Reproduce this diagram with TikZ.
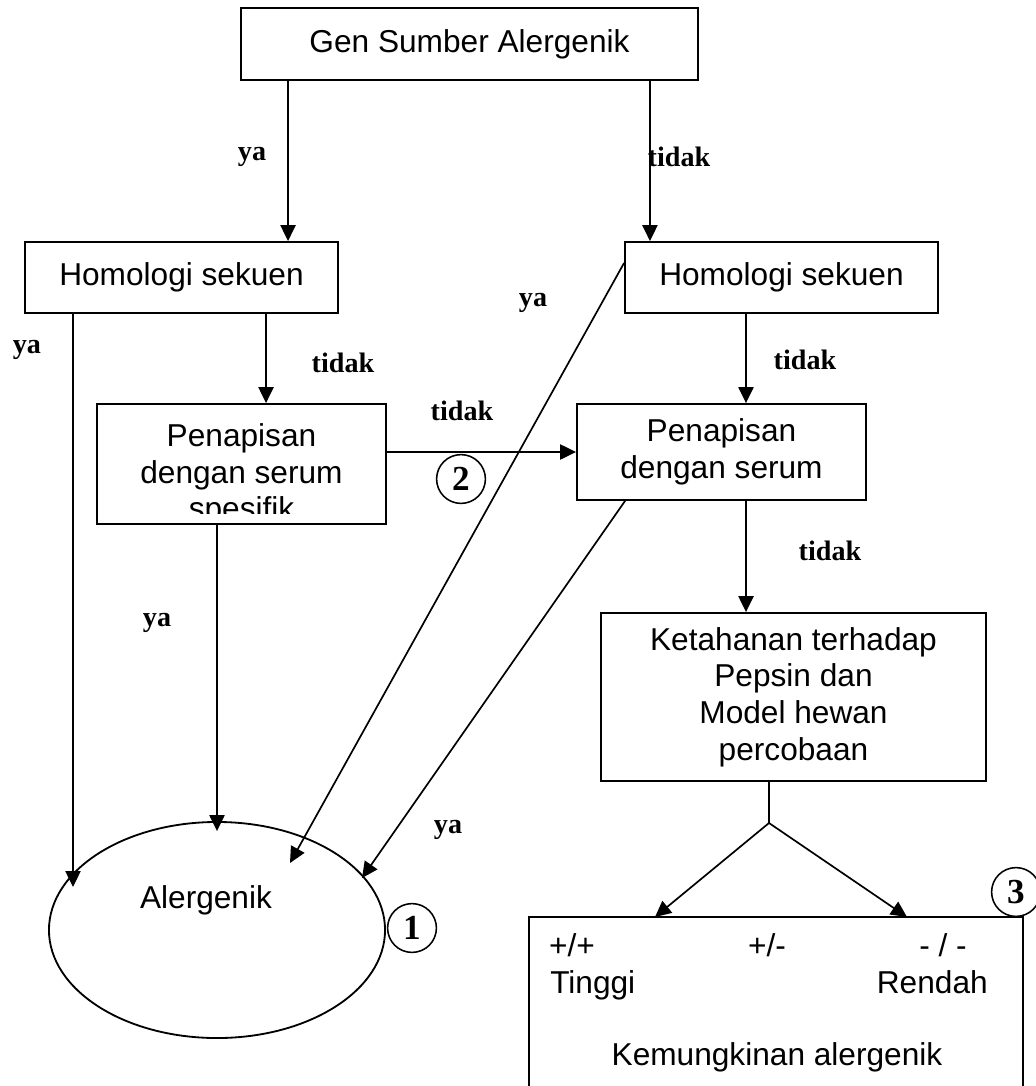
\documentclass[tikz,border=0pt]{standalone}
\usepackage{fontspec}
\setmainfont{Liberation Sans}
\newfontfamily\labelfont{Liberation Serif}
\usetikzlibrary{shapes.geometric,arrows.meta}

\tikzset{
	box/.style={draw, line width=1.3pt, inner sep=0pt, align=center, font=\fontsize{22.5}{26}\selectfont},
	txt/.style={inner sep=0pt, align=center, font=\fontsize{22.5}{26}\selectfont},
	lbl/.style={inner sep=0pt, font=\labelfont\bfseries\fontsize{20}{24}\selectfont},
	num/.style={draw, circle, line width=1.1pt, minimum size=1.22cm, inner sep=0pt, font=\labelfont\bfseries\fontsize{25}{26}\selectfont},
	arr/.style={line width=1.2pt, -{Triangle[length=0.4cm,width=0.38cm]}}
}

\begin{document}
\begin{tikzpicture}[x=0.025cm, y=-0.025cm]
	\useasboundingbox (0,0) rectangle (1035,1086);

	% boxes
	\node[box, minimum width=11.425cm, minimum height=1.8cm] (gen) at (469.5,44) {Gen Sumber Alergenik};
	\node[box, minimum width=7.825cm, minimum height=1.775cm] (hl) at (181.5,277.5) {Homologi sekuen};
	\node[box, minimum width=7.825cm, minimum height=1.775cm] (hr) at (781.5,277.5) {Homologi sekuen};
	\node[box, minimum width=7.225cm, minimum height=3cm] (pl) at (241.5,464) {};
	\begin{scope}
		\clip ([yshift=0.275cm]pl.south west) rectangle (pl.north east);
		\node[txt] (plt) at (241.5,475) {Penapisan\\dengan serum\\spesifik};
	\end{scope}
	\node[box, minimum width=7.225cm, minimum height=2.4cm] (pr) at (721.5,452) {Penapisan\\dengan serum};
	\node[box, minimum width=9.625cm, minimum height=4.2cm] (kt) at (793.5,697) {Ketahanan terhadap\\Pepsin dan\\Model hewan\\percobaan};
	\node[box, minimum width=12.35cm, minimum height=5.075cm] (res) at (776,1018.5) {};
	\node[draw, ellipse, line width=1.3pt, minimum width=8.4cm, minimum height=5.4cm] (alerg) at (217,930) {};
	\node[txt] (alt) at (206,900) {Alergenik};

	% text in the result box
	\node[txt, anchor=base] (pp) at (572,956) {+/+};
	\node[txt, anchor=base] (pm) at (767,956) {+/-};
	\node[txt, anchor=base] (mm) at (943,956) {- / -};
	\node[txt, anchor=base west] (hi) at (550,993) {Tinggi};
	\node[txt, anchor=base east] (lo) at (988,993) {Rendah};
	\node[txt] (kem) at (777,1057) {Kemungkinan alergenik};

	% arrow ends
	\coordinate (e1) at (73,887);
	\coordinate (e3) at (290,863);
	\coordinate (e4) at (362,878);
	\coordinate (fork) at (769,823);
	\coordinate (t1) at (655,917);
	\coordinate (t2) at (907,917);

	% connectors
	\draw[arr] ([xshift=1.2cm]gen.south west) coordinate (g1) -- (g1 |- hl.north);
	\draw[arr] ([xshift=-1.225cm]gen.south east) coordinate (g2) -- (g2 |- hr.north);
	\draw[arr] (e1 |- hl.south) -- (e1);
	\draw[arr] ([xshift=2.1125cm]hl.south) coordinate (h1) -- (h1 |- pl.north);
	\draw[arr] ([xshift=-0.8875cm]hr.south) coordinate (h2) -- (h2 |- pr.north);
	\draw[arr] ([xshift=0.6125cm]pr.south) coordinate (p2) -- (p2 |- kt.north);
	\draw[arr] (pl.east |- pr.west) -- (pr.west);
	\draw[arr] ([xshift=-0.6125cm]pl.south) -- ([yshift=-0.25cm]alerg.north);
	\draw[arr] ([yshift=0.3625cm]hr.west) -- (e3);
	\draw[arr] ([xshift=1.225cm]pr.south west) -- (e4);
	\draw[line width=1.2pt] ([xshift=-0.6125cm]kt.south) -- (fork);
	\draw[arr] (fork) -- (t1);
	\draw[arr] (fork) -- (t2);

	% labels
	\foreach \x/\y/\t [count=\i] in {252/157/ya, 679/157/tidak, 27/350/ya, 343/363/tidak, 533/303/ya,
		805/360/tidak, 462/411/tidak, 830/551/tidak, 157/623/ya, 448/830/ya}
		\node[lbl] (lab\i) at (\x,\y) {\t};

	\node[num] (n1) at (412,928) {1};
	\node[num] (n2) at (461,479) {2};
	\node[num] (n3) at (1016,892) {3};
\end{tikzpicture}
\end{document}
